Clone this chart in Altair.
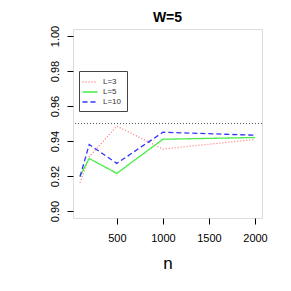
import altair as alt
import pandas as pd

n_vals = [100, 200, 500, 1000, 2000]
L3 = [0.9162, 0.9310, 0.9485, 0.9354, 0.9409]
L5 = [0.9200, 0.9300, 0.9215, 0.9410, 0.9420]
L10 = [0.9196, 0.9380, 0.9272, 0.9450, 0.9433]
series = ["L=3", "L=5", "L=10"]
colors = ["#ff7a7a", "#44ee44", "#3333ff"]
dashes = [[1, 2], [1, 0], [5, 3]]
ref_level = 0.95
y_ticks = [0.90, 0.92, 0.94, 0.96, 0.98, 1.00]
x_ticks = [500, 1000, 1500, 2000]

rows = []
for name, vals in zip(series, [L3, L5, L10]):
    for n, v in zip(n_vals, vals):
        rows.append({"n": n, "cov": v, "L": name})
df = pd.DataFrame(rows)

FONT = "Liberation Sans"

xscale = alt.Scale(domain=[24, 2076], nice=False, zero=False)
yscale = alt.Scale(domain=[0.896, 1.004], nice=False, zero=False)

yaxis = alt.Axis(values=y_ticks, format=".2f",
                 title=None, grid=False, domain=False, tickSize=6,
                 tickColor="black", labelFontSize=11, labelFont=FONT,
                 labelColor="black", labelAngle=270, labelAlign="center",
                 labelBaseline="bottom", labelPadding=7,
                 labelOverlap=False, labelFlush=False)

lines = alt.Chart(df).mark_line(strokeWidth=1.3).encode(
    x=alt.X("n:Q", scale=xscale,
            axis=alt.Axis(values=x_ticks, format="d", title="n",
                          grid=False, domain=False, tickSize=6, tickColor="black",
                          labelFontSize=11, labelFont=FONT, labelColor="black",
                          labelOverlap=False, labelFlush=False,
                          labelPadding=8, titleFontSize=17, titleFont=FONT,
                          titleFontWeight="normal", titlePadding=12, titleColor="black")),
    y=alt.Y("cov:Q", scale=yscale, axis=yaxis),
    color=alt.Color("L:N", scale=alt.Scale(domain=series, range=colors),
                    legend=alt.Legend(title=None, orient="none", legendX=6, legendY=42,
                                      strokeColor="#444444", padding=5,
                                      symbolType="M-1.5,0H1.5", symbolSize=100,
                                      symbolStrokeWidth=1.3, labelFontSize=8,
                                      labelFont=FONT, labelColor="#333333",
                                      rowPadding=0, labelOffset=7,
                                      fillColor="white")),
    strokeDash=alt.StrokeDash("L:N", scale=alt.Scale(domain=series, range=dashes),
                              legend=None),
)

ref = alt.Chart(pd.DataFrame({"y": [ref_level]})).mark_rule(
    color="#555555", strokeDash=[1, 2], strokeWidth=1
).encode(y=alt.Y("y:Q", scale=yscale, axis=yaxis))

chart = alt.layer(ref, lines).properties(
    width=189, height=189,
    title=alt.TitleParams("W=5", fontSize=14, font=FONT, fontWeight="bold",
                          anchor="middle", offset=6, dy=6, color="black"),
    autosize=alt.AutoSizeParams(type="none"),
    padding={"left": 65, "top": 21, "right": 10, "bottom": 60},
).configure_view(stroke="#333333", strokeWidth=1.2).configure(background="white")

chart.save("out.html", embed_options={"renderer": "svg", "actions": False})
